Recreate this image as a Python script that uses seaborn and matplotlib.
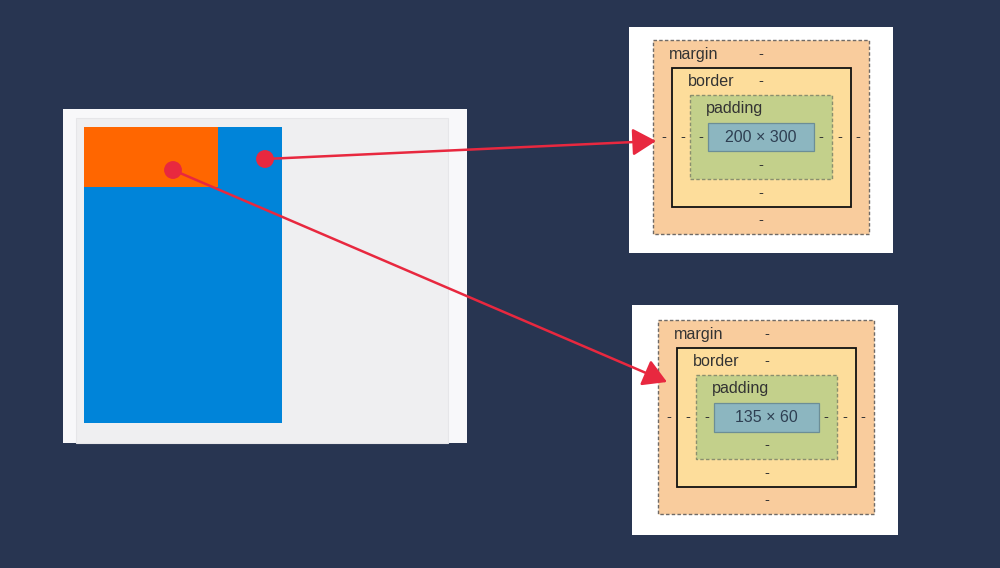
import matplotlib
matplotlib.use("Agg")
import matplotlib.pyplot as plt
from matplotlib.patches import Rectangle
import seaborn as sns

sns.set_theme(style="white")
plt.rcParams['font.family'] = ['Liberation Sans', 'DejaVu Sans']

# ---- data ----
# box-model panels: (x0, y0, x1, y1) in pixel space
panel_white = [(629, 27, 893, 253), (632, 305, 898, 535)]
margin_box = [(653, 40, 869, 234), (658, 320, 874, 514)]
border_box = [(672, 68, 851, 207), (677, 348, 856, 487)]
padding_box = [(690, 95, 832, 179), (696, 375, 837, 459)]
content_box = [(708, 123, 814, 151), (714, 403, 819, 432)]
content_labels = ["200 × 300", "135 × 60"]
layer_names = ["margin", "border", "padding"]

# left demo page
page_outer = (63, 109, 467, 443)
page_inner = (76, 118, 448, 443)
blue_block = (84, 127, 282, 423)
orange_block = (84, 127, 218, 187)

# pointer dots and arrow tips
dot_x = [265, 173]
dot_y = [159, 170]
tip_x = [656, 667]
tip_y = [141, 382]

BG = "#283551"
RED = "#e8283f"
C_MARGIN = "#f9cc9d"
C_BORDER = "#fddd9b"
C_PADDING = "#c3d08b"
C_CONTENT = "#8cb6c0"
TXT = "#333333"

fig = plt.figure(figsize=(10, 5.68), dpi=100)
fig.patch.set_facecolor(BG)
ax = fig.add_axes([0, 0, 1, 1])
ax.set_xlim(0, 1000)
ax.set_ylim(568, 0)
ax.axis("off")
ax.set_facecolor(BG)


def rect(b, fc, ec="none", lw=0, ls="-", z=1):
    x0, y0, x1, y1 = b
    ax.add_patch(Rectangle((x0, y0), x1 - x0, y1 - y0, facecolor=fc,
                           edgecolor=ec, linewidth=lw, linestyle=ls, zorder=z))


# left page
rect(page_outer, "#f8f8fa", z=1)
rect(page_inner, "#efeff1", ec="#e6e6e9", lw=0.8, z=2)
rect(blue_block, "#0084d9", z=3)
rect(orange_block, "#ff6600", z=4)

# box-model panels
dash = (0, (2.5, 1.6))
for i in range(2):
    rect(panel_white[i], "white", z=1)
    rect(margin_box[i], C_MARGIN, ec="#6f6a66", lw=1.0, ls=dash, z=2)
    rect(border_box[i], C_BORDER, ec="#111111", lw=1.3, z=3)
    rect(padding_box[i], C_PADDING, ec="#8a8f6e", lw=1.0, ls=dash, z=4)
    rect(content_box[i], C_CONTENT, ec="#6c8e96", lw=0.9, z=5)

    boxes = [margin_box[i], border_box[i], padding_box[i]]
    inner = [border_box[i], padding_box[i], content_box[i]]
    cx = (content_box[i][0] + content_box[i][2]) / 2
    cy = (content_box[i][1] + content_box[i][3]) / 2
    ax.text(cx, cy, content_labels[i], ha="center", va="center",
            fontsize=11.5, color="#2e3f52", zorder=6)
    for name, ob, ib in zip(layer_names, boxes, inner):
        ty = (ob[1] + ib[1]) / 2
        by = (ob[3] + ib[3]) / 2
        lx = (ob[0] + ib[0]) / 2 + 1.5
        rx = (ob[2] + ib[2]) / 2 - 2
        ax.text(ob[0] + 16, ty, name, ha="left", va="center",
                fontsize=11.6, color=TXT, zorder=6)
        marks = [(cx, by), (lx, cy), (rx, cy)]
        if name != "padding":
            marks.append((cx, ty))
        for (x, y) in marks:
            ax.text(x, y, "-", ha="center", va="center", fontsize=10.5,
                    color=TXT, zorder=6)

# arrows
for sx, sy, ex, ey in zip(dot_x, dot_y, tip_x, tip_y):
    ax.annotate("", xy=(ex, ey), xytext=(sx, sy),
                arrowprops=dict(arrowstyle="-|>,head_length=1.2,head_width=0.7",
                                color=RED, lw=1.8, shrinkA=0, shrinkB=0),
                zorder=8)

sns.scatterplot(x=dot_x, y=dot_y, s=165, color=RED, edgecolor="none",
                ax=ax, zorder=9, legend=False)
ax.set_xlim(0, 1000)
ax.set_ylim(568, 0)
ax.axis("off")

fig.savefig("out.png", dpi=100, facecolor=BG)
